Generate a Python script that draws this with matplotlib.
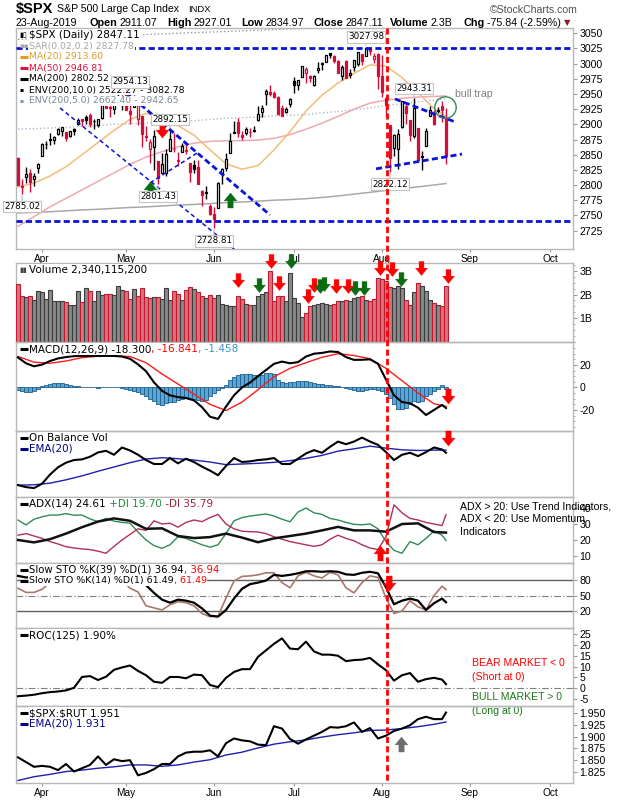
import numpy as np
import matplotlib
matplotlib.use("Agg")
import matplotlib.pyplot as plt
from matplotlib.path import Path
from matplotlib.lines import Line2D
from matplotlib.ticker import MultipleLocator

plt.rcParams['font.family'] = ['DejaVu Sans']
plt.rcParams['axes.unicode_minus'] = False

# ---------------- data (trading-day index 0 = 22-Mar-2019) ----------------
PREV_CLOSE = 2854.88
opens = [2844.5, 2796.0, 2812.7, 2819.7, 2809.4, 2828.3,
         2848.6, 2868.2, 2876.1, 2874.0, 2884.2, 2888.5,
         2886.6, 2881.4, 2891.9, 2900.9, 2908.3, 2912.3,
         2916.0, 2904.8, 2898.8, 2910.0, 2934.0, 2929.0,
         2925.8, 2940.6, 2937.1, 2952.3, 2922.2, 2929.2,
         2908.9, 2913.0, 2879.6, 2859.8, 2863.1, 2840.2,
         2820.1, 2820.4, 2855.8, 2858.6, 2841.9, 2854.0,
         2856.1, 2836.7, 2832.4, 2830.0, 2790.3, 2786.9,
         2766.2, 2751.5, 2762.6, 2818.1, 2828.5, 2852.9,
         2885.8, 2903.3, 2882.7, 2886.2, 2886.8, 2889.8,
         2906.7, 2920.6, 2949.6, 2952.7, 2951.4, 2945.8,
         2926.1, 2919.7, 2932.9, 2971.4, 2964.7, 2978.1,
         2984.3, 2979.8, 2965.5, 2989.3, 2999.6, 3003.4,
         3017.8, 3012.1, 3005.1, 2978.9, 3004.3, 2981.9,
         2994.7, 2998.8, 3016.3, 3013.3, 3024.5, 3007.7,
         3016.2, 2980.3, 2943.9, 2898.1, 2861.2, 2858.7,
         2896.2, 2930.5, 2907.1, 2880.7, 2894.2, 2846.2,
         2864.7, 2913.5, 2919.0, 2922.0, 2930.9, 2911.1]
highs = [2846.2, 2809.8, 2829.9, 2825.6, 2819.7, 2836.0,
         2869.4, 2872.9, 2885.3, 2881.3, 2893.2, 2896.0,
         2886.9, 2889.7, 2893.4, 2910.5, 2909.6, 2916.1,
         2918.0, 2908.5, 2909.5, 2936.3, 2936.8, 2933.1,
         2939.9, 2949.5, 2948.2, 2954.1, 2931.7, 2947.9,
         2937.3, 2913.0, 2898.0, 2876.0, 2891.3, 2840.2,
         2852.5, 2858.7, 2892.2, 2885.5, 2853.9, 2868.9,
         2865.5, 2836.7, 2841.4, 2841.0, 2792.0, 2799.0,
         2769.0, 2763.1, 2804.5, 2827.3, 2852.1, 2885.0,
         2904.8, 2910.6, 2888.6, 2895.2, 2894.5, 2897.3,
         2930.8, 2931.7, 2958.1, 2964.2, 2954.9, 2946.5,
         2932.6, 2929.3, 2944.0, 2977.9, 2973.2, 2995.8,
         2994.0, 2980.8, 2981.9, 3003.0, 3002.3, 3013.9,
         3017.8, 3015.0, 3005.3, 2998.3, 3006.0, 2990.7,
         3005.9, 3019.6, 3016.3, 3028.0, 3025.6, 3017.2,
         3017.4, 3013.6, 2945.5, 2898.1, 2884.4, 2892.2,
         2938.7, 2935.8, 2907.6, 2943.3, 2894.2, 2856.7,
         2893.6, 2931.0, 2923.6, 2928.7, 2939.1, 2927.0]
lows = [2800.5, 2785.0, 2804.0, 2787.7, 2798.8, 2819.2,
        2848.6, 2858.8, 2865.2, 2867.1, 2883.0, 2880.8,
        2873.3, 2879.1, 2882.0, 2898.4, 2896.5, 2900.7,
        2895.5, 2891.9, 2896.4, 2908.5, 2926.1, 2912.8,
        2917.6, 2939.4, 2924.1, 2923.4, 2900.5, 2929.2,
        2898.2, 2862.6, 2873.3, 2836.4, 2825.4, 2801.4,
        2820.1, 2815.1, 2855.8, 2854.2, 2831.3, 2854.0,
        2851.1, 2805.5, 2820.2, 2801.6, 2766.1, 2776.7,
        2750.5, 2728.8, 2762.6, 2800.9, 2822.5, 2852.9,
        2885.5, 2878.5, 2874.7, 2882.0, 2879.6, 2887.3,
        2905.4, 2911.4, 2931.5, 2946.9, 2944.1, 2916.0,
        2913.0, 2918.6, 2929.1, 2952.2, 2955.9, 2978.0,
        2968.0, 2970.1, 2963.4, 2984.6, 2988.8, 3001.9,
        3008.8, 3001.2, 2984.3, 2973.1, 2975.9, 2976.7,
        2988.6, 2996.8, 2997.2, 3012.6, 3014.5, 3000.9,
        2958.1, 2945.2, 2914.1, 2822.1, 2847.4, 2825.7,
        2894.5, 2900.2, 2873.1, 2877.1, 2839.6, 2825.5,
        2864.7, 2913.5, 2899.6, 2917.9, 2904.5, 2835.0]
closes = [2800.7, 2798.4, 2818.5, 2805.4, 2815.4, 2834.4,
          2867.2, 2867.3, 2873.4, 2879.4, 2892.7, 2895.8,
          2878.2, 2888.2, 2888.3, 2907.4, 2905.6, 2907.1,
          2900.5, 2905.0, 2908.0, 2933.7, 2927.3, 2926.2,
          2939.9, 2943.0, 2945.8, 2923.7, 2917.5, 2945.6,
          2932.5, 2884.1, 2879.4, 2870.7, 2881.4, 2811.9,
          2834.4, 2851.0, 2876.3, 2859.5, 2840.2, 2864.4,
          2856.3, 2822.2, 2826.1, 2802.4, 2783.0, 2788.9,
          2752.1, 2744.5, 2803.3, 2826.2, 2843.5, 2873.3,
          2886.7, 2885.7, 2879.8, 2891.6, 2887.0, 2889.7,
          2917.8, 2926.5, 2954.2, 2950.5, 2945.4, 2917.4,
          2913.8, 2924.9, 2941.8, 2964.3, 2973.0, 2995.8,
          2990.4, 2976.0, 2979.6, 2993.1, 2999.9, 3013.8,
          3014.3, 3004.0, 2984.4, 2995.1, 2976.6, 2985.0,
          3005.5, 3019.6, 3003.7, 3025.9, 3021.0, 3013.2,
          2980.4, 2953.6, 2932.1, 2844.7, 2881.8, 2884.0,
          2938.1, 2918.7, 2882.7, 2926.3, 2840.6, 2847.6,
          2888.7, 2923.7, 2900.5, 2924.4, 2923.0, 2847.1]
volume_b = [2.43, 1.93, 1.89, 1.93, 1.76, 2.14,
            2.10, 1.83, 2.19, 1.71, 1.71, 1.71, 1.67, 1.57, 1.57, 2.14, 1.70, 2.29, 2.17, 1.71, 2.17,
            2.00, 2.04, 2.04, 2.00, 2.36, 2.21,
            2.17, 1.83, 2.24, 1.93, 2.26, 1.90, 1.86, 1.89, 1.89, 1.81, 2.26, 1.76, 2.17, 2.04, 1.76,
            2.19, 2.31, 2.24, 2.10, 1.96, 1.86, 2.00,
            1.86, 2.00, 1.61, 1.57, 1.53, 1.53, 1.96, 1.81, 1.62, 1.57, 1.55, 1.96, 2.04, 2.10, 3.00,
            1.71, 1.96, 1.96, 1.71, 2.90,
            1.86, 1.64, 1.07, 1.24, 1.53, 1.57, 1.60, 1.64, 1.60, 1.57, 1.60, 1.71, 1.71, 1.76, 1.71,
            1.86, 1.90, 1.93, 1.79, 1.74, 1.81, 2.71,
            2.64, 2.57, 2.30, 2.26, 2.35, 2.26, 1.79, 1.57, 2.11, 2.50, 2.36, 2.14, 1.76, 1.64, 1.57,
            1.50, 2.34]

# smooth overlays, sampled every 4th bar (+ last bar)
ma20 = [2797, 2803, 2815, 2830, 2850, 2870, 2890, 2908, 2918, 2912, 2898, 2882, 2858, 2835,
        2826, 2832, 2858, 2888, 2922, 2948, 2968, 2984, 2998, 2996, 2977, 2952, 2926, 2913.6]
ma50 = [2732, 2748, 2764, 2778, 2792, 2806, 2820, 2834, 2846, 2855, 2863, 2869, 2872, 2873,
        2873, 2874, 2877, 2883, 2892, 2902, 2913, 2925, 2935, 2940, 2943, 2945, 2946, 2946.8]
ma200 = [2754, 2755, 2756, 2757.5, 2759, 2760, 2761.5, 2763, 2764, 2765.5, 2767, 2768, 2769.5, 2771,
         2772, 2773.5, 2775, 2776, 2777.5, 2779.5, 2782, 2785, 2788, 2791, 2794, 2797, 2800, 2802.5]
env5_upper = [2892, 2893, 2894, 2895, 2897, 2898, 2900, 2901, 2902, 2904, 2905, 2906, 2908, 2910,
              2911, 2912, 2914, 2915, 2916, 2919, 2921, 2924, 2927, 2931, 2934, 2937, 2940, 2942.65]
env10_upper = [3040, 3041, 3042, 3043, 3044, 3045, 3046, 3047, 3048, 3049, 3050, 3051, 3052, 3053,
               3054, 3055, 3056, 3057, 3058, 3060, 3062, 3065, 3068, 3071, 3074, 3077, 3080, 3082.78]
macd_signal = [27.5, 22.5, 21.5, 23.5, 26.5, 27.7, 28.0, 27.5, 22.0, 12.0, 3.0, -6.0, -15.0, -20.5,
               -13.0, -2.0, 9.5, 17.0, 22.0, 26.8, 30.0, 28.4, 25.5, 17.0, 6.0, -5.0, -14.5, -16.8]
obv_ema = [18, 18.5, 21, 26, 32, 39, 45.5, 52, 57.5, 59.5, 58, 56, 53, 49,
           50, 51, 52.5, 55, 58.5, 63, 69.5, 73, 77, 74, 71.5, 70.5, 71, 71]
adx = [20, 18.5, 20.5, 24, 28, 31.5, 33.5, 32, 27, 27.3, 22.5, 21.2, 21.8, 24,
       21.5, 18.6, 21, 22.5, 24, 26, 28.2, 26, 26, 25.2, 30, 30.4, 25, 24.61]
ratio_ema = [1.807, 1.815, 1.820, 1.826, 1.829, 1.833, 1.836, 1.840, 1.840, 1.837, 1.840, 1.846, 1.851, 1.861,
             1.867, 1.876, 1.884, 1.889, 1.893, 1.899, 1.904, 1.908, 1.913, 1.914, 1.917, 1.921, 1.926, 1.931]

# jagged indicators, sampled every 2nd bar (+ last bar)
macd_line = [26.6, 21.5, 18.8, 20.3, 23.5, 25.8, 27.0, 27.8, 28.0, 28.0, 28.0, 28.0, 28.0, 27.5,
             25.5, 20.5, 14.5, 4.5, -3.0, -7.0, -8.6, -9.4, -11.5, -17.5, -26.0, -28.0, -17.0, -7.0,
             0.0, 4.3, 10.0, 15.5, 21.0, 23.0, 21.5, 22.5, 27.5, 30.0, 30.7, 32.0, 31.5, 27.0,
             24.5, 24.6, 25.0, 21.0, 7.0, -7.0, -13.0, -14.0, -18.0, -24.5, -20.0, -15.5, -18.3]
obv = [18, 15, 13.5, 20, 34, 45, 52, 56, 57, 61, 67.5, 70, 64, 75, 70.5, 64, 56, 50, 50, 59,
       51, 58, 53, 46, 40, 33, 47, 59, 53, 54, 56, 57, 59, 50, 50, 58, 66, 71, 67, 76,
       84, 80, 84, 90, 84, 79, 68, 56, 64, 67, 62, 68, 75, 72, 67]
plus_di = [32.5, 29.4, 33, 34.5, 35.6, 35.6, 36.5, 35.5, 35.6, 33.2, 31.5, 33.5, 31.8, 31, 30.5,
           25, 20, 16.5, 14.8, 17, 22, 21, 19, 17, 15.5, 17, 24, 32, 34, 35, 35.6, 36.3, 35, 33,
           31.4, 37.5, 40, 37, 36, 33.5, 32.5, 31, 29.8, 29.5, 30, 27, 19, 13.5, 11.7, 19, 17, 21,
           25.6, 23, 19.7]
minus_di = [23, 24, 22.5, 21, 19, 17.5, 15.8, 15, 14.4, 14, 13, 11.7, 16, 20, 23.5, 27, 26, 32,
            30, 30.5, 28, 31, 32.5, 31.5, 34, 36, 30, 27, 25.5, 25.2, 25, 24, 22, 20.5, 19, 18, 17,
            16, 17, 20.5, 23, 21, 19.5, 17, 15, 14, 22, 42, 37, 33.5, 32.5, 31, 30, 29, 35.79]
sto_k39 = [88, 85, 86, 90, 93, 95, 96, 97, 96, 97, 97, 98, 98, 97, 90, 80, 70, 55, 42, 36,
           42, 40, 36, 25, 11, 9, 22, 44, 63, 72, 75, 79, 90, 88, 90, 93, 97, 97, 96, 97,
           96, 91, 90, 94, 96, 93, 66, 33, 40, 44, 40, 22, 35, 44, 36.94]
sto_k14 = [64, 56, 56, 62, 75, 88, 92, 95, 90, 93, 96, 94, 92, 80, 64, 57, 30, 26, 22, 32,
           38, 36, 30, 15, 9, 10, 45, 78, 87, 88, 90, 94, 94, 75, 65, 88, 95, 88, 84, 95,
           90, 65, 55, 75, 88, 85, 45, 15, 20, 40, 28, 22, 50, 68, 61.49]
roc = [-3.7, -3.4, -3, -2.3, -1.8, -1.5, -1, 0.2, 5.2, 5.6, 3.8, 5.3, 8.5, 9.6, 10.5, 8, 6, 3,
       2.5, 5.2, 5.2, 4.6, 6.3, 6, 1.5, 0.5, 4.8, 7.5, 8.8, 8.8, 14.5, 17.5, 20.5, 23, 18.3, 18,
       21.5, 17, 15.5, 15.5, 15, 12.5, 13, 13.2, 14, 11, 8.3, 3.5, 6, 7, 3, 4.2, 4.8, 4, 1.9]
ratio = [1.856, 1.846, 1.836, 1.838, 1.836, 1.829, 1.842, 1.826, 1.833, 1.840, 1.858, 1.840, 1.852,
         1.848, 1.850, 1.818, 1.823, 1.831, 1.842, 1.842, 1.858, 1.866, 1.868, 1.868, 1.871, 1.858,
         1.886, 1.896, 1.892, 1.890, 1.883, 1.882, 1.922, 1.917, 1.895, 1.885, 1.894, 1.902, 1.910,
         1.920, 1.919, 1.922, 1.930, 1.910, 1.918, 1.896, 1.902, 1.912, 1.917, 1.924, 1.937, 1.942,
         1.937, 1.937, 1.951]
macd_hist = [-2, -3, -4, -4, -3, -1,
             1, 2.5, 3.5, 4.3, 4.3, 3.8, 3, 2.3,
             1.5, 1, 0.8, 0.5, 0.3, 0, -0.5, 0.5, 0.8, 0.6, 0.3, 0, -0.5, -1,
             -2.5, -3.5, -4.3, -5.5, -7.5, -10, -12,
             -15, -15.5, -14, -13, -12.5, -11.5,
             -10, -9, -9.5, -10.6, -11, -12, -11,
             -8, -5, -2.5, -0.5, 2,
             6.6, 9, 11.4, 12, 12.3,
             12.3, 11.5, 11, 11.5, 12.5,
             13, 12, 6.6, 5, 4.3,
             4.5, 5, 5.5, 6, 6,
             5, 4.3, 3.5, 2.8, 2.3, 1.8, 1.2, 0.9,
             0.5, -0.5, -1.5, -2.6, -3.4, -3, -2.2, -1.5, -1.4,
             -2.5, -3.4, -6, -9, -15,
             -19, -19, -18, -15, -12,
             -13, -12, -8, -6, -3,
             -1.5, 2.5, -1.458]

month_idx = [6, 27, 49, 69, 91, 113, 133]
month_lab = ['Apr', 'May', 'Jun', 'Jul', 'Aug', 'Sep', 'Oct']
signal_day = 92.25

# annotations drawn on the chart: (bar, price, side, sideways nudge in points)
hi_lo_labels = [(1, 2785.02, 'below', 0), (27, 2954.13, 'above', 3), (35, 2801.43, 'below', 0),
                (38, 2892.15, 'above', 0), (49, 2728.81, 'below', 0), (87, 3027.98, 'above', 0),
                (93, 2822.12, 'below', 0), (99, 2943.31, 'above', 0)]
h_levels = [3025, 2740]
trend_thin = [((10.5, 2927), (56.75, 2680)), ((33, 2803.5), (44.75, 2852.6))]
trend_thick = [((27, 2953), (63, 2750.7)), ((94.25, 2941.8), (109.25, 2904)),
               ((89.5, 2826.6), (111, 2851))]
bull_trap = (106.75, 2928.6)
arrows = [  # panel, kind, colour, points
    ('price', 'down', 'red', [(36, 2890)]),
    ('price', 'up', 'green', [(33, 2793), (53, 2775)]),
    ('vol', 'down', 'red', [(55, 2.62), (63.3, 3.42), (65.2, 2.49), (72.4, 1.95), (73.9, 2.4),
                            (79.6, 2.36), (82.5, 2.36), (90.5, 3.12), (93.5, 3.08), (100.8, 3.12),
                            (107.6, 2.78)]),
    ('vol', 'down', 'green', [(60.2, 2.42), (68.2, 3.40), (75.4, 2.36), (76.4, 2.45), (84.3, 2.28),
                              (86.5, 2.28), (95.7, 2.66)]),
    ('macd', 'down', 'red', [(107.6, -8)]),
    ('obv', 'down', 'red', [(107.6, 90)]),
    ('adx', 'up', 'red', [(90.5, 11.6)]),
    ('sto', 'down', 'red', [(92.7, 75)]),
    ('ratio', 'up', 'gray', [(95.7, 1.884)]),
]

# ---------------- layout ----------------
W, H = 620, 800
X_LEFT, X_RIGHT = 16, 573
PANEL_PX = {'price': (28, 249), 'vol': (263, 342), 'macd': (342, 431), 'obv': (431, 497),
            'adx': (497, 563), 'sto': (563, 628), 'roc': (628, 706), 'ratio': (706, 783)}
FRAME = '#b8b8b8'
TICKC = '#999999'
CANDLE_RED = '#d0103a'
BLUE = '#0a14d8'
ARROW_COL = {'red': '#ff0000', 'green': '#0b6b12', 'gray': '#6e6e6e'}
LEG_FS = 7.5
OVERLAY_FS = 6.7
LEG_BOX = dict(boxstyle='square,pad=0.08', fc='white', ec='none')
SANS = 'Liberation Sans'

x_day = np.arange(len(closes))
x_2 = np.r_[np.arange(0, 107, 2), 107]
x_4 = np.r_[np.arange(0, 105, 4), 107]

fig = plt.figure(figsize=(W / 100, H / 100), dpi=100)
fig.patch.set_facecolor('white')
axes = {}
for name, (top, bot) in PANEL_PX.items():
    ax = fig.add_axes([X_LEFT / W, 1 - bot / H, (X_RIGHT - X_LEFT) / W, (bot - top) / H])
    ax.set_facecolor('none')
    ax.set_xlim(-0.5, 138.75)
    for sp in ax.spines.values():
        sp.set_color(FRAME)
        sp.set_linewidth(1.0)
    ax.yaxis.tick_right()
    ax.tick_params(axis='y', which='major', direction='out', length=3, width=0.8, color=TICKC,
                   labelsize=7.6, pad=1.5, labelfontfamily=SANS)
    ax.tick_params(axis='y', which='minor', direction='out', length=1.5, width=0.6, color=TICKC)
    ax.set_xticks([])
    axes[name] = ax


def legend_row(name, row, parts, icon=None, icon_color='black', icon_ls='-', size=LEG_FS):
    top, bot = PANEL_PX[name]
    ax = axes[name]
    wpx = X_RIGHT - X_LEFT
    y = 1 - (7 + 11 * row) / (bot - top)
    if icon == 'line':
        ax.plot([4 / wpx, 12 / wpx], [y, y], transform=ax.transAxes, color=icon_color, lw=2.2,
                ls=icon_ls, solid_capstyle='butt', clip_on=False, zorder=22)
    elif icon is not None:
        ax.text(3 / wpx, y, icon, transform=ax.transAxes, color=icon_color, fontsize=5,
                va='center', ha='left', zorder=22)
    t = ax.text(13 / wpx, y, parts[0][0], color=parts[0][1], transform=ax.transAxes,
                fontsize=size, va='center', ha='left', zorder=20, bbox=LEG_BOX)
    for s, c in parts[1:]:
        t = ax.annotate(s, xy=(1, 0.5), xycoords=t, color=c, fontsize=size,
                        va='center', ha='left', zorder=20, bbox=LEG_BOX)


def month_axis(ax):
    ax.set_xticks(month_idx)
    ax.set_xticklabels(month_lab)
    ax.tick_params(axis='x', length=2, color=TICKC, labelsize=7.3, pad=1.5, labelfontfamily=SANS)


# ---------------- price panel ----------------
axp = axes['price']
o, hgh, low, c = map(np.array, (opens, highs, lows, closes))
prev = np.r_[PREV_CLOSE, c[:-1]]
down_day = c < prev
edge = np.where(down_day, CANDLE_RED, 'black')
face = np.where(c > o, 'white', edge)
axp.plot(x_4, ma200, color='#a9a9a9', lw=1.1, zorder=2)
axp.plot(x_4, ma50, color='#eeaab2', lw=1.1, zorder=2)
axp.plot(x_4, ma20, color='#f3bd78', lw=1.1, zorder=2)
axp.plot(x_4, env5_upper, color='#b4b8cc', lw=1.0, ls=':', zorder=2)
axp.plot(x_4, env10_upper, color='#9a9a9a', lw=1.0, ls=':', zorder=2)
axp.vlines(x_day, low, hgh, colors=edge, lw=1, zorder=4)
axp.bar(x_day, np.maximum(np.abs(c - o), 0.8), bottom=np.minimum(o, c), width=0.62,
        color=face, edgecolor=edge, linewidth=0.9, zorder=5)
for lvl in h_levels:
    axp.axhline(lvl, color=BLUE, lw=2, ls=(0, (2.2, 1.2)), zorder=6)
for (x0, y0), (x1, y1) in trend_thin:
    axp.plot([x0, x1], [y0, y1], color=BLUE, lw=1.1, ls=(0, (2.8, 2.0)), zorder=6)
for (x0, y0), (x1, y1) in trend_thick:
    axp.plot([x0, x1], [y0, y1], color=BLUE, lw=2, ls=(0, (2.2, 1.2)), zorder=6)
for i, v, side, dx in hi_lo_labels:
    axp.annotate(f'{v:.2f}', xy=(i, v), xytext=(dx, 7 if side == 'above' else -9),
                 textcoords='offset points', ha='center', va='center', fontsize=6.3,
                 bbox=dict(boxstyle='square,pad=0.15', fc='white', ec='#c4c4c4', lw=0.8),
                 arrowprops=dict(arrowstyle='-', color='#b8b8b8', lw=0.8, shrinkA=0, shrinkB=1),
                 zorder=25)
axp.plot(*bull_trap, 'o', ms=15.4, mfc='none', mec='#2e8b57', mew=1.0, zorder=11)
axp.text(bull_trap[0] + 2.5, 2950, 'bull trap', color='#808080', fontsize=7.6,
         family=SANS, va='center', ha='left', zorder=11)
axp.set_ylim(2694.6, 3058.7)
axp.set_yticks(np.arange(2725, 3051, 25))
month_axis(axp)
legend_row('price', 0, [('$SPX (Daily) 2847.11', 'black')], icon='▮▯', icon_color='black')
legend_row('price', 1, [('SAR(0.02,0.2) 2827.78', '#a6a6a6')], icon='▪▪', icon_color='#a6a6a6',
           size=OVERLAY_FS)
legend_row('price', 2, [('MA(20) 2913.60', '#e39a2d')], icon='line', icon_color='#e39a2d',
           size=OVERLAY_FS)
legend_row('price', 3, [('MA(50) 2946.81', '#dc143c')], icon='line', icon_color='#dc143c',
           size=OVERLAY_FS)
legend_row('price', 4, [('MA(200) 2802.52', 'black')], icon='line', icon_color='black',
           size=OVERLAY_FS)
legend_row('price', 5, [('ENV(200,10.0) 2522.27 - 3082.78', 'black')], icon='line',
           icon_color='black', icon_ls=':', size=OVERLAY_FS)
legend_row('price', 6, [('ENV(200,5.0) 2662.40 - 2942.65', '#7a8896')], icon='line',
           icon_color='#8a96a6', icon_ls=':', size=OVERLAY_FS)

# ---------------- volume ----------------
axv = axes['vol']
v_face = np.where(down_day, '#d9737e', '#8a8a8a')
v_edge = np.where(down_day, '#c21a30', '#3c3c3c')
axv.bar(x_day, volume_b, width=0.85, color=v_face, edgecolor=v_edge, linewidth=0.8, zorder=3)
axv.set_ylim(0, 3.33)
axv.set_yticks([1, 2, 3])
axv.set_yticklabels(['1B', '2B', '3B'])
axv.yaxis.set_minor_locator(MultipleLocator(0.25))
legend_row('vol', 0, [('Volume 2,340,115,200', 'black')], icon='▮▮', icon_color='#444444')

# ---------------- MACD ----------------
axm = axes['macd']
axm.bar(x_day, macd_hist, width=0.9, color='#5aa7d6', edgecolor='#1f5f8e', linewidth=0.6, zorder=2)
axm.plot(x_4, macd_signal, color='#ff1a1a', lw=1.0, zorder=3)
axm.plot(x_2, macd_line, color='black', lw=1.5, zorder=4)
axm.set_ylim(-38.7, 40.4)
axm.set_yticks([-20, 0, 20])
axm.yaxis.set_minor_locator(MultipleLocator(5))
legend_row('macd', 0, [('MACD(12,26,9) -18.300', 'black'), (', -16.841', '#ff0000'),
                       (', -1.458', '#3b94c8')], icon='line', icon_color='black')

# ---------------- OBV ----------------
axo = axes['obv']
axo.plot(x_4, obv_ema, color='#1f1fb0', lw=1.0, zorder=2)
axo.plot(x_2, obv, color='black', lw=1.5, zorder=3)
axo.set_ylim(0, 100)
axo.set_yticks([])
legend_row('obv', 0, [('On Balance Vol', 'black')], icon='line', icon_color='black')
legend_row('obv', 1, [('EMA(20)', '#00008b')], icon='line', icon_color='#00008b')

# ---------------- ADX ----------------
axa = axes['adx']
axa.plot(x_2, plus_di, color='#2e8b57', lw=1.0, zorder=2)
axa.plot(x_2, minus_di, color='#b0305a', lw=1.0, zorder=2)
axa.plot(x_4, adx, color='#111111', lw=1.8, zorder=3)
axa.set_ylim(5.6, 46.9)
axa.set_yticks([10, 20, 30, 40])
legend_row('adx', 0, [('ADX(14) 24.61', 'black'), (' +DI 19.70', '#1f8a3a'),
                      (' -DI 35.79', '#a0203c')], icon='line', icon_color='black')
for k, line in enumerate(['ADX > 20: Use Trend Indicators,', 'ADX < 20: Use Momentum',
                          'Indicators']):
    axa.text(110.5, 41.25 - 8.1 * k, line, fontsize=7.6, family=SANS, color='black',
             va='center', ha='left', clip_on=False, zorder=16)

# ---------------- Slow STO ----------------
axs = axes['sto']
axs.axhline(80, color='#606060', lw=1.0, zorder=1)
axs.axhline(50, color='#808080', lw=0.8, ls=(0, (6, 2, 1, 2)), zorder=1)
axs.axhline(20, color='#606060', lw=1.0, zorder=1)
axs.plot(x_2, sto_k14, color='#a8786e', lw=1.2, zorder=2)
axs.plot(x_2, sto_k39, color='black', lw=1.6, zorder=3)
axs.set_ylim(-13, 113)
axs.set_yticks([20, 50, 80])
legend_row('sto', 0, [('Slow STO %K(39) %D(1) 36.94', 'black'), (', 36.94', '#ff0000')],
           icon='line', icon_color='black', size=7.3)
legend_row('sto', 1, [('Slow STO %K(14) %D(1) 61.49', 'black'), (', 61.49', '#ff0000')],
           icon='line', icon_color='black', size=6.8)

# ---------------- ROC ----------------
axr = axes['roc']
axr.axhline(0, color='#808080', lw=0.8, ls=(0, (6, 2, 1, 2)), zorder=1)
axr.plot(x_2, roc, color='black', lw=1.5, zorder=3)
axr.set_ylim(-8.2, 27.8)
axr.set_yticks(np.arange(-5, 26, 5))
legend_row('roc', 0, [('ROC(125) 1.90%', 'black')], icon='line', icon_color='black')
for txt, val, col in [('BEAR MARKET < 0', 11.6, '#ff0000'), ('(Short at 0)', 5.2, '#ff0000'),
                      ('BULL MARKET > 0', -3.9, '#1b7a1b'), ('(Long at 0)', -10.7, '#1b7a1b')]:
    axr.text(113.5, val, txt, color=col, fontsize=7.6, family=SANS, va='center', ha='left',
             clip_on=False, zorder=16)

# ---------------- $SPX:$RUT ----------------
axq = axes['ratio']
axq.plot(x_4, ratio_ema, color='#1f1fb0', lw=1.0, zorder=2)
axq.plot(x_2, ratio, color='black', lw=1.5, zorder=3)
axq.set_ylim(1.8017, 1.9648)
axq.set_yticks(np.arange(1.825, 1.951, 0.025))
axq.set_yticklabels([f'{t:.3f}' for t in np.arange(1.825, 1.951, 0.025)])
month_axis(axq)
legend_row('ratio', 0, [(r'\$SPX:\$RUT 1.951', 'black')], icon='line', icon_color='black')
legend_row('ratio', 1, [('EMA(20) 1.931', '#00008b')], icon='line', icon_color='#00008b')

# ---------------- arrows ----------------
ARROW_DOWN = Path([(-0.35, 1), (0.35, 1), (0.35, 0.05), (0.85, 0.05), (0, -1),
                   (-0.85, 0.05), (-0.35, 0.05), (-0.35, 1)], closed=True)
ARROW_UP = Path([(x, -y) for x, y in ARROW_DOWN.vertices], closed=True)
for name, kind, col, pts in arrows:
    ms = 10 if name == 'vol' else 10.8
    for xv, yv in pts:
        axes[name].plot([xv], [yv], ls='none', marker=ARROW_DOWN if kind == 'down' else ARROW_UP,
                        ms=ms, color=ARROW_COL[col], mec=ARROW_COL[col], mew=0.3,
                        clip_on=False, zorder=15)

# ---------------- red signal line across panels ----------------
xd = axp.transData.transform((signal_day, 0))[0] / fig.bbox.width
fig.add_artist(Line2D([xd, xd], [1 - PANEL_PX['price'][0] / H, 1 - PANEL_PX['ratio'][1] / H],
                      transform=fig.transFigure, color='#ff0000', lw=2, ls=(0, (2.2, 1.2)),
                      zorder=30))

# ---------------- header ----------------
def fig_text(xpx, ypx, s, **kw):
    return fig.text(xpx / W, 1 - ypx / H, s, va='center', ha='left', family=SANS, **kw)


def chain(prev_txt, s, gap_pt, **kw):
    return fig.axes[0].annotate(s, xy=(1, 0.5), xycoords=prev_txt, xytext=(gap_pt, 0),
                                textcoords='offset points', va='center', ha='left',
                                family=kw.pop('family', SANS), annotation_clip=False, **kw)


t = fig_text(16, 9, '$SPX', fontsize=10.5, fontweight='bold')
t = chain(t, 'S&P 500 Large Cap Index', 2.5, fontsize=7.6)
chain(t, 'INDX', 7, fontsize=6.8)
fig.text(578 / W, 1 - 10 / H, '©StockCharts.com', va='center', ha='right', family=SANS,
         fontsize=7.6, color='#505050')
t = fig_text(16, 23, '23-Aug-2019', fontsize=7.7)
for lab, val, g in [('Open', '2911.07', 9), ('High', '2927.01', 7), ('Low', '2834.97', 7),
                    ('Close', '2847.11', 7), ('Volume', '2.3B', 5), ('Chg', '-75.84 (-2.59%)', 8)]:
    t = chain(t, lab, g, fontsize=7.8, fontweight='bold')
    t = chain(t, val, 1.5, fontsize=7.7)
chain(t, '▼', 2, fontsize=6, color='#8b1a2b', family='DejaVu Sans')

fig.savefig('out.png', dpi=100, facecolor='white')
